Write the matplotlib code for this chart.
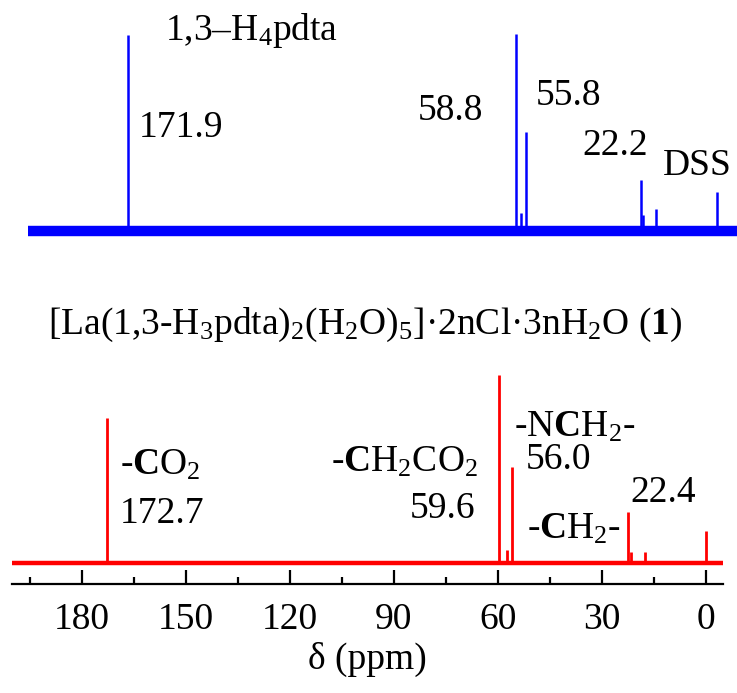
import matplotlib
matplotlib.use('Agg')
import matplotlib.pyplot as plt

plt.rcParams['font.family'] = ['Liberation Serif', 'DejaVu Serif']
plt.rcParams['mathtext.fontset'] = 'custom'
plt.rcParams['mathtext.rm'] = 'Liberation Serif'
plt.rcParams['mathtext.it'] = 'Liberation Serif:italic'
plt.rcParams['mathtext.bf'] = 'Liberation Serif:bold'

# 1,3-H4pdta (azul) - deslocamentos (ppm) e intensidades relativas
ppm_ligante = [171.9, 58.8, 57.1, 55.8, 22.2, 21.7, 17.9, 0.0]
int_ligante = [99.5, 100, 9, 50, 26, 8, 11, 20]

# complexo de La (vermelho)
ppm_complexo = [172.6, 59.6, 57.4, 56.0, 22.4, 21.6, 17.6, 0.0]
int_complexo = [77, 100, 7, 51, 27, 6, 6, 17]

ticks_maiores = [180, 150, 120, 90, 60, 30, 0]
ticks_menores = [195, 165, 135, 105, 75, 45, 15]

W, H = 737, 693
fig = plt.figure(figsize=(W / 100, H / 100), dpi=100)


def px(x, y):
    # pixel da imagem -> fracao da figura
    return x / W, 1 - y / H


# espectro do ligante (eixo proprio, sem moldura)
ax1 = fig.add_axes([27.7 / W, (H - 250) / H, (737 - 27.7) / W, 230 / H])
ax1.set_xlim(201.0, -5.7)
ax1.set_ylim(-9.6, 107)
ax1.hlines(0, 201.0, -5.7, color='#0000ff', lw=7.5, capstyle='butt')
ax1.vlines(ppm_ligante, 0, int_ligante, color='#0000ff', lw=1.8)
ax1.axis('off')

# espectro do complexo
ax2 = fig.add_axes([12.3 / W, (H - 584) / H, (723 - 12.3) / W, 224 / H])
ax2.set_xlim(200.0, -4.9)
ax2.set_ylim(-11.2, 108)
ax2.hlines(0, 200.0, -4.9, color='#ff0000', lw=3.2, capstyle='butt')
ax2.vlines(ppm_complexo, 0, int_complexo, color='#ff0000', lw=2)
for s in ['top', 'left', 'right']:
    ax2.spines[s].set_visible(False)
ax2.spines['bottom'].set_linewidth(1.6)
ax2.set_yticks([])
ax2.set_xticks(ticks_maiores)
ax2.set_xticks(ticks_menores, minor=True)
ax2.tick_params(axis='x', which='major', direction='in', length=10, width=1.6,
                labelsize=27, pad=13)
ax2.tick_params(axis='x', which='minor', direction='in', length=5, width=1.6)
ax2.set_xlabel('δ (ppm)', fontsize=27, labelpad=4)

fs = 27
txt = [
    (252, 30, r'1,3–H$_4$pdta'),
    (181, 128, '171.9'),
    (450, 111, '58.8'),
    (569, 96, '55.8'),
    (615, 146, '22.2'),
    (697, 166, 'DSS'),
    (365, 325, r'[La(1,3-H$_3$pdta)$_2$(H$_2$O)$_5$]·2nCl·3nH$_2$O ($\mathbf{1}$)'),
    (160, 465, r'-$\mathbf{C}$O$_2$'),
    (162, 514, '172.7'),
    (405, 462, r'-$\mathbf{C}$H$_2$CO$_2$'),
    (443, 509, '59.6'),
    (575, 427, r'-N$\mathbf{C}$H$_2$-'),
    (558, 460, '56.0'),
    (663, 493, '22.4'),
    (574, 529, r'-$\mathbf{C}$H$_2$-'),
]
for x, y, s in txt:
    fx, fy = px(x, y)
    fig.text(fx, fy, s, fontsize=fs, ha='center', va='center')

fig.savefig('out.png', dpi=100)
